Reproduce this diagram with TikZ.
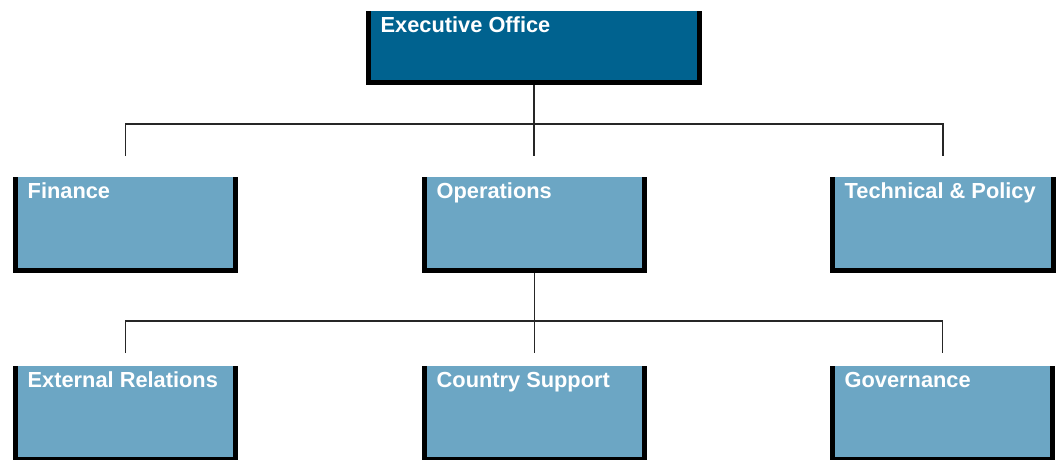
\documentclass[tikz,border=0pt]{standalone}
\usepackage{fontspec}
\setmainfont{Liberation Sans}
\usetikzlibrary{calc}
\definecolor{darkbox}{RGB}{0,98,143}
\definecolor{lightbox}{RGB}{108,166,196}
\newcommand\orgbox[7]{% #1 name, #2 x0, #3 y0, #4 x1, #5 y1, #6 colour, #7 text
  \pgfmathsetmacro\bw{#4-#2}\pgfmathsetmacro\bh{#5-#3}%
  \node[boxbase, fill=black, minimum width=\bw pt, minimum height=\bh pt] (#1F) at (#2,#3) {};
  \pgfmathsetmacro\fw{#4-#2-10}\pgfmathsetmacro\fh{#5-#3-5}%
  \node[boxbase, fill=#6, minimum width=\fw pt, minimum height=\fh pt] (#1) at (#2+4.5,#3) {};
  \node[lbl] (#1T) at (#2+14.5,#3+21) {#7};
}
\begin{document}
\begin{tikzpicture}[x=1pt,y=-1pt,
  boxbase/.style={draw=none, inner sep=0pt, outer sep=0pt, anchor=north west},
  lbl/.style={text=white, font=\fontsize{21.8}{26}\selectfont\bfseries, inner sep=0pt, anchor=base west},
  conn/.style={draw=black!85, line width=1.3pt}]
\useasboundingbox (0,0) rectangle (1061,459);

\orgbox{exec}{366}{11}{702}{85}{darkbox}{Executive Office}
\orgbox{fin}{13}{177}{238}{273}{lightbox}{Finance}
\orgbox{ops}{422}{177}{647}{273}{lightbox}{Operations}
\orgbox{tech}{830}{177}{1056}{273}{lightbox}{Technical \& Policy}
\orgbox{ext}{13}{366}{238}{462}{lightbox}{External Relations}
\orgbox{cs}{422}{366}{647}{462}{lightbox}{Country Support}
\orgbox{gov}{830}{366}{1055}{462}{lightbox}{Governance}

\coordinate (h1) at (0,124);
\coordinate (h2) at (0,321);
\coordinate (finIn) at ($(finF.north)+(0,-21)$);
\coordinate (opsIn) at ($(opsF.north)+(0,-21)$);
\coordinate (techIn) at ($(techF.north)+(0,-21)$);
\coordinate (extIn) at ($(extF.north)+(0,-13)$);
\coordinate (csIn) at ($(csF.north)+(0,-13)$);
\coordinate (govIn) at ($(govF.north)+(0,-13)$);

\draw[conn] (execF.south) -- (execF.south |- opsIn);
\draw[conn] (finIn) -- (finIn |- h1) -- (techIn |- h1) -- (techIn);
\draw[conn] (opsF.south) -- (opsF.south |- csIn);
\draw[conn] (extIn) -- (extIn |- h2) -- (govIn |- h2) -- (govIn);
\end{tikzpicture}
\end{document}
